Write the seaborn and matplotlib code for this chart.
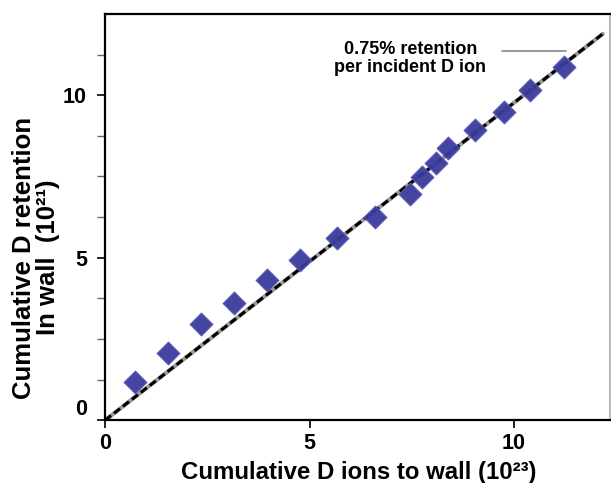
"""
Retention cumulée de D dans la paroi en fonction des ions D incidents.
"""

# ─────────────────────────────────────────────
# Importations des bibliothèques
# ─────────────────────────────────────────────
import pandas as pd
import numpy as np
import matplotlib
matplotlib.use("Agg")
import matplotlib.pyplot as plt
import matplotlib.transforms as mtransforms
import seaborn as sns

# ─────────────────────────────────────────────
# Données
# ─────────────────────────────────────────────
ions_to_wall = [0.74, 1.54, 2.35, 3.14, 3.96, 4.77, 5.68, 6.59, 7.46, 7.75,
                8.08, 8.38, 9.05, 9.76, 10.38, 11.23]
d_retention = [1.19, 2.08, 2.96, 3.61, 4.31, 4.94, 5.61, 6.24, 6.96, 7.47,
               7.93, 8.37, 8.93, 9.49, 10.17, 10.88]

fit_x = [0.0, 12.17]
fit_y = [0.0, 11.89]

annot_text = "0.75% retention\nper incident D ion"
pointer_x = [9.71, 11.27]
pointer_y = [11.36, 11.36]

x_ticks = [0, 5, 10]
y_ticks = [0, 5, 10]
y_minor = [1.25, 2.5, 3.75, 6.25, 7.5, 8.75, 11.25]

df = pd.DataFrame({"ions": ions_to_wall, "retention": d_retention})
fit = pd.DataFrame({"x": fit_x, "y": fit_y})

# ─────────────────────────────────────────────
# Style
# ─────────────────────────────────────────────
sns.set_style("ticks")
plt.rcParams["font.family"] = ["Liberation Sans", "DejaVu Sans"]
plt.rcParams["font.weight"] = "bold"
plt.rcParams["text.color"] = "black"
plt.rcParams["axes.labelcolor"] = "black"
plt.rcParams["xtick.color"] = "black"
plt.rcParams["ytick.color"] = "black"

fig = plt.figure(figsize=(6.11, 4.83), dpi=100)
ax = fig.add_axes([0.172, 0.130, 0.826, 0.841])

# ligne d'ajustement : fond gris + tirets noirs
sns.lineplot(data=fit, x="x", y="y", ax=ax, color="#9a9a9a", linewidth=3.0, zorder=2)
sns.lineplot(data=fit, x="x", y="y", ax=ax, color="black", linewidth=2.2,
             linestyle=(0, (2.5, 1.2)), zorder=3)

# points mesurés
sns.scatterplot(data=df, x="ions", y="retention", ax=ax, marker="D", s=135,
                color="#3a3a9c", edgecolor="#5a5ab8", linewidth=0.8, alpha=0.95, zorder=4)

# annotation
ax.text(7.46, 11.13, annot_text, ha="center", va="center", fontsize=13,
        fontweight="bold", linespacing=1.1)
ax.plot(pointer_x, pointer_y, color="#888888", linewidth=1.2)

# ─────────────────────────────────────────────
# Axes
# ─────────────────────────────────────────────
ax.set_xlim(0, 12.34)
ax.set_ylim(0, 12.5)
ax.set_xticks(x_ticks)
ax.set_yticks(y_ticks)
ax.set_yticks(y_minor, minor=True)
ax.tick_params(axis="both", which="major", labelsize=15.5, length=6, width=1.2, direction="out")
ax.tick_params(axis="y", which="major", pad=7)
ax.tick_params(axis="y", which="minor", length=6, width=1.0, color="#666666")
for lab in ax.get_xticklabels() + ax.get_yticklabels():
    lab.set_fontweight("bold")

# le "0" de l'axe y est un peu au-dessus de l'axe dans l'original
zero_lab = ax.get_yticklabels()[0]
zero_lab.set_transform(zero_lab.get_transform() +
                       mtransforms.ScaledTranslation(0, 13 / 100, fig.dpi_scale_trans))

for side in ["left", "bottom", "top", "right"]:
    ax.spines[side].set_linewidth(1.6)
    ax.spines[side].set_color("black")
ax.spines["right"].set_color("#bbbbbb")

ax.set_xlabel("Cumulative D ions to wall (10²³)", fontsize=17.3, fontweight="bold")
ax.xaxis.set_label_coords(0.502, -0.10)
ax.set_ylabel("Cumulative D retention\nIn wall  (10²¹)", fontsize=18.5, fontweight="bold",
              linespacing=1.0)
ax.yaxis.set_label_coords(-0.09, 0.40)

fig.savefig("out.png", dpi=100)
